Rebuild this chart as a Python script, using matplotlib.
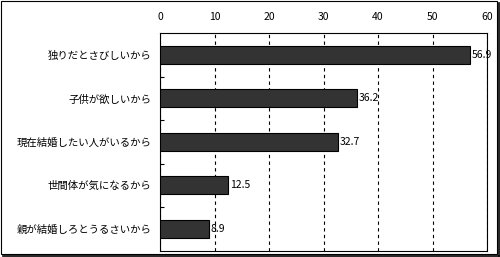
import numpy as np
import matplotlib.pyplot as plt
from matplotlib.patches import Rectangle
from matplotlib.lines import Line2D

plt.rcParams['font.family'] = ['Noto Sans CJK JP', 'DejaVu Sans']

categories = ["独りだとさびしいから", "子供が欲しいから", "現在結婚したい人がいるから",
              "世間体が気になるから", "親が結婚しろとうるさいから"]
values = [56.9, 36.2, 32.7, 12.5, 8.9]
xticks = [0, 10, 20, 30, 40, 50, 60]

fig = plt.figure(figsize=(5.0, 2.57), dpi=100)
ax = fig.add_axes([0.32, 0.025, 0.654, 0.846])

y = np.arange(len(categories))
ax.barh(y, values, height=0.41, color='#333333', edgecolor='black', linewidth=0.8, zorder=3)
for yi, v in zip(y, values):
    ax.text(v + 0.3, yi, f"{v}", va='center', ha='left', fontsize=7.5, zorder=4)

ax.set_xlim(0, 60)
ax.set_ylim(len(categories) - 0.5, -0.5)
ax.set_xticks(xticks)
ax.xaxis.tick_top()
ax.tick_params(axis='x', length=0, labelsize=7.5, pad=8)
ax.set_yticks(y)
ax.set_yticklabels(categories, fontsize=7.5)
ax.tick_params(axis='y', which='major', length=0, pad=6)
ax.set_yticks(np.arange(0.5, len(categories) - 0.5, 1), minor=True)
ax.tick_params(axis='y', which='minor', direction='in', length=3, width=0.8)
ax.grid(axis='x', linestyle=(0, (3, 3)), color='black', linewidth=0.8, zorder=1)
for s in ax.spines.values():
    s.set_linewidth(0.8)

# outer frame with shadow
fig.patches.append(Rectangle((0.002, 0.012), 0.992, 0.984, transform=fig.transFigure,
                             fill=False, edgecolor='black', linewidth=0.8))
fig.lines.append(Line2D([0.006, 0.998], [0.004, 0.004], transform=fig.transFigure,
                        color='black', linewidth=1.2))
fig.lines.append(Line2D([0.998, 0.998], [0.004, 0.99], transform=fig.transFigure,
                        color='black', linewidth=1.2))

fig.savefig('out.png', dpi=100)
